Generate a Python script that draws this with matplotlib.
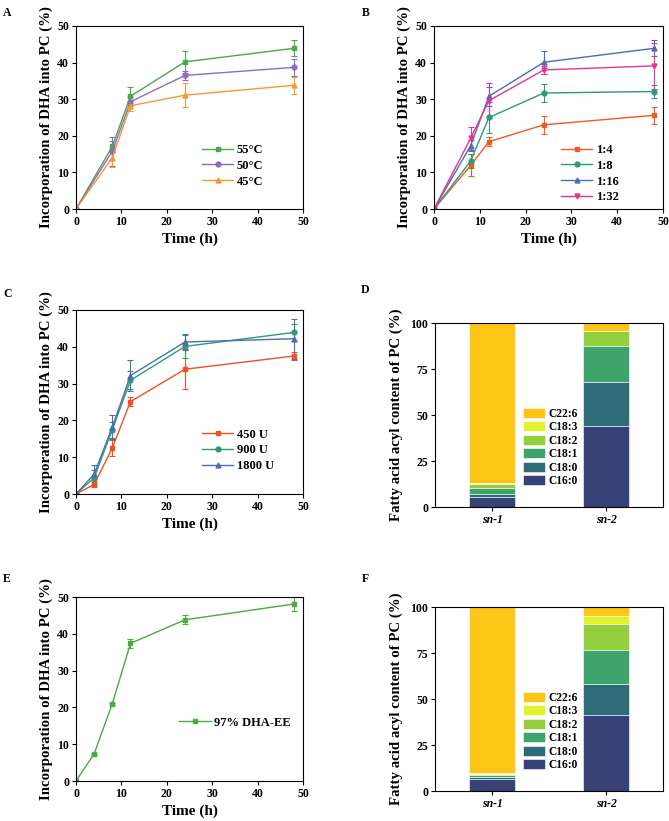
import matplotlib.pyplot as plt
import numpy as np

plt.rcParams['font.family'] = ['Liberation Serif', 'DejaVu Serif']
plt.rcParams['font.weight'] = 'bold'
plt.rcParams['axes.labelweight'] = 'bold'

# ---- data ----
t_A = [0, 8, 12, 24, 48]
A_55 = [0, 17.1, 30.8, 40.2, 43.9]
A_55_err = [0, 1.5, 2.5, 3.1, 2.2]
A_50 = [0, 15.8, 29.3, 36.5, 38.7]
A_50_err = [0, 4.0, 1.2, 1.2, 2.4]
A_45 = [0, 14.0, 28.2, 31.1, 33.8]
A_45_err = [0, 2.4, 1.3, 3.3, 2.4]

t_B = [0, 8, 12, 24, 48]
B_4 = [0, 11.9, 18.4, 23.0, 25.6]
B_4_err = [0, 3.0, 1.3, 2.4, 2.3]
B_8 = [0, 13.1, 25.0, 31.7, 32.1]
B_8_err = [0, 2.0, 4.2, 2.4, 1.7]
B_16 = [0, 17.3, 30.8, 40.1, 43.9]
B_16_err = [0, 1.5, 2.6, 3.2, 2.2]
B_32 = [0, 19.3, 29.6, 38.0, 39.1]
B_32_err = [0, 3.2, 4.8, 1.2, 6.3]

t_C = [0, 4, 8, 12, 24, 48]
C_450 = [0, 2.6, 12.5, 25.1, 33.9, 37.5]
C_450_err = [0, 0.8, 2.2, 1.2, 5.4, 1.2]
C_900 = [0, 4.4, 17.5, 30.9, 40.1, 43.9]
C_900_err = [0, 2.0, 2.2, 2.5, 3.2, 2.3]
C_1800 = [0, 5.4, 18.2, 32.2, 41.3, 42.2]
C_1800_err = [0, 2.5, 3.2, 4.2, 2.3, 5.4]

t_E = [0, 4, 8, 12, 24, 48]
E_97 = [0, 7.4, 21.0, 37.4, 43.8, 48.1]
E_97_err = [0, 0.3, 0.3, 1.3, 1.2, 1.8]

acyl = ['C16:0', 'C18:0', 'C18:1', 'C18:2', 'C18:3', 'C22:6']
positions = ['sn-1', 'sn-2']
D_sn1 = [5.3, 1.6, 3.2, 2.4, 0.3, 87.2]
D_sn2 = [44.2, 23.6, 19.9, 8.1, 0.0, 4.2]
F_sn1 = [6.7, 0.9, 1.3, 0.5, 0.2, 90.4]
F_sn2 = [41.1, 17.2, 18.1, 14.2, 4.3, 5.1]
acyl_colors = ['#364275', '#2c6b77', '#3ea46b', '#93cf3a', '#e2f22c', '#fcc617']

W, H = 669, 821
fig = plt.figure(figsize=(W / 100, H / 100), dpi=100)


def make_ax(l, t, r, b):
    return fig.add_axes([l / W, 1 - b / H, (r - l) / W, (b - t) / H])


def style_time(ax):
    ax.set_xlim(0, 50)
    ax.set_ylim(0, 50)
    ax.set_xticks([0, 10, 20, 30, 40, 50])
    ax.set_yticks([0, 10, 20, 30, 40, 50])
    ax.tick_params(direction='out', length=3, width=0.8, labelsize=8.5, pad=2)
    ax.set_xlabel('Time (h)', fontsize=11, labelpad=3)
    ax.set_ylabel('Incorporation of DHA into PC (%)', fontsize=10.7, labelpad=3)
    for s in ax.spines.values():
        s.set_linewidth(0.8)


def series(ax, t, y, err, color, marker, label):
    c = ax.errorbar(t, y, yerr=err, color=color, marker=marker, markersize=3.5,
                    linewidth=1, elinewidth=0.8, capsize=2, capthick=0.8)
    c[0].set_label(label)
    return c[0]


def time_legend(ax, lines, x, top):
    ax.legend(handles=lines, loc='upper left', bbox_to_anchor=(x, top), frameon=False,
              fontsize=9, borderpad=0, borderaxespad=0, handlelength=2.5,
              handletextpad=0.3, labelspacing=0.3)


# A
ax = make_ax(76, 26, 303, 209)
l1 = series(ax, t_A, A_55, A_55_err, '#4aa84a', 's', '55\u00b0C')
l2 = series(ax, t_A, A_50, A_50_err, '#8a6cc6', 'o', '50\u00b0C')
l3 = series(ax, t_A, A_45, A_45_err, '#f89630', '^', '45\u00b0C')
style_time(ax)
time_legend(ax, [l1, l2, l3], 0.555, 0.355)

# B
ax = make_ax(434, 26, 663, 209)
l1 = series(ax, t_B, B_4, B_4_err, '#f05a24', 's', '1:4')
l2 = series(ax, t_B, B_8, B_8_err, '#2e9a78', 'o', '1:8')
l3 = series(ax, t_B, B_16, B_16_err, '#4a6db5', '^', '1:16')
l4 = series(ax, t_B, B_32, B_32_err, '#e0369a', 'v', '1:32')
style_time(ax)
time_legend(ax, [l1, l2, l3, l4], 0.555, 0.355)

# C
ax = make_ax(76, 310, 303, 494)
l1 = series(ax, t_C, C_450, C_450_err, '#f04e23', 's', '450 U')
l2 = series(ax, t_C, C_900, C_900_err, '#2e9a72', 'o', '900 U')
l3 = series(ax, t_C, C_1800, C_1800_err, '#4a6db5', '^', '1800 U')
style_time(ax)
time_legend(ax, [l1, l2, l3], 0.555, 0.355)

# E
ax = make_ax(76, 597, 303, 781)
l1 = series(ax, t_E, E_97, E_97_err, '#4aab3e', 's', '97% DHA-EE')
style_time(ax)
time_legend(ax, [l1], 0.455, 0.35)


def stacked(ax, sn1, sn2):
    x = np.array([1, 2])
    bottom = np.zeros(2)
    handles = []
    for i, name in enumerate(acyl):
        vals = np.array([sn1[i], sn2[i]])
        h = ax.bar(x, vals, width=0.4, bottom=bottom, color=acyl_colors[i],
                   edgecolor='white', linewidth=0.4, label=name)
        handles.append(h)
        bottom += vals
    ax.set_xlim(0.5, 2.5)
    ax.set_ylim(0, 100)
    ax.set_yticks([0, 25, 50, 75, 100])
    ax.set_xticks(x)
    ax.tick_params(direction='out', length=3, width=0.8, labelsize=8.5, pad=2)
    ax.set_xticklabels(positions, style='italic', fontsize=8.5)
    ax.set_ylabel('Fatty acid acyl content of PC (%)', fontsize=10.7, labelpad=5)
    for s in ax.spines.values():
        s.set_linewidth(0.8)
    ax.legend(handles[::-1], acyl[::-1], loc='upper left',
              bbox_to_anchor=(0.386, 0.538), frameon=False, fontsize=8.3,
              borderpad=0, borderaxespad=0, handlelength=1.9, handleheight=0.95,
              handletextpad=0.3, labelspacing=0.12)


ax = make_ax(435, 323, 663, 507)
stacked(ax, D_sn1, D_sn2)
ax = make_ax(435, 607, 663, 791)
stacked(ax, F_sn1, F_sn2)

for letter, px, py in [('A', 3, 16), ('B', 362, 16), ('C', 3, 297), ('D', 361, 293),
                       ('E', 3, 582), ('F', 362, 582)]:
    fig.text(px / W, 1 - py / H, letter, fontsize=8.5, fontweight='bold')

fig.savefig('out.png', dpi=100)
